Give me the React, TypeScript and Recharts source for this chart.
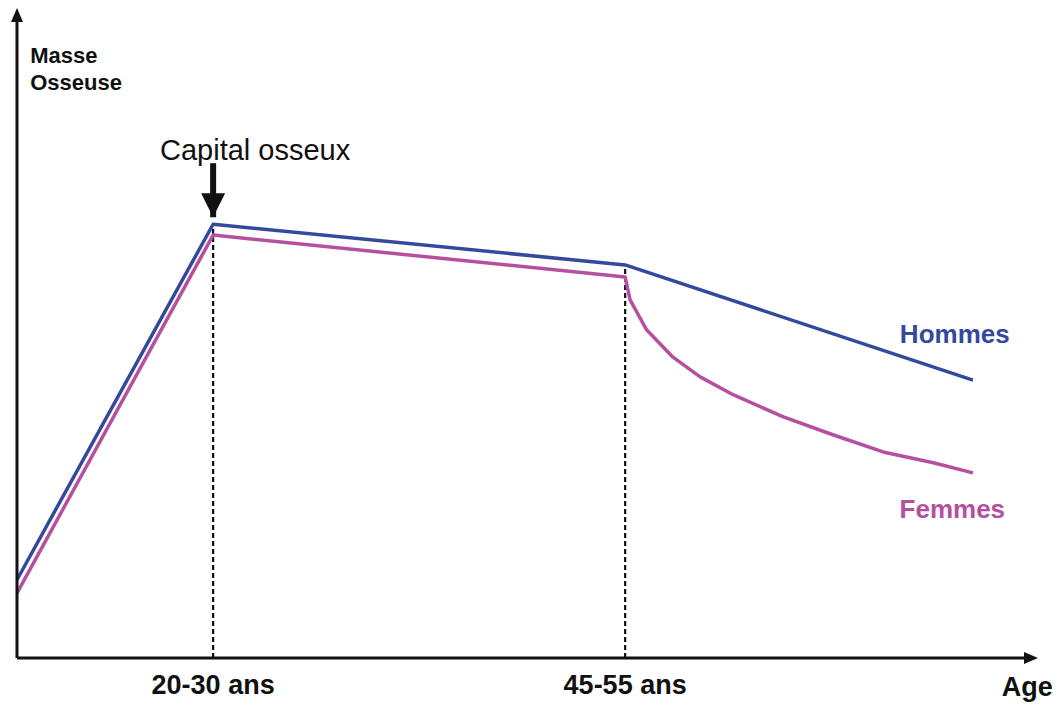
import {
  ComposedChart, Line, XAxis, YAxis, ReferenceLine, ReferenceDot,
} from 'recharts';

// ages (x) and relative bone mass (y, 0-100)
const hommesAge = [13.1, 25, 50, 71.1];
const hommesMasse = [12.3, 68.2, 61.8, 43.7];
const femmesAge = [13.1, 25, 50, 50.3, 51.3, 52.9, 54.55, 56.55, 59.6, 62.6, 65.65, 68.7, 71.1];
const femmesMasse = [10.2, 66.5, 59.9, 56.3, 51.6, 47.3, 44.2, 41.4, 37.9, 35.1, 32.4, 30.7, 29.1];

const tickAges = [25, 50];
const tickLabels = ['20-30 ans', '45-55 ans'];

const BLUE = '#34499c';
const PINK = '#b4509f';
const FONT = '"Liberation Sans", Arial, sans-serif';

const hommes = hommesAge.map((age, i) => ({ age, masse: hommesMasse[i] }));
const femmes = femmesAge.map((age, i) => ({ age, masse: femmesMasse[i] }));

function note(text: string, opts: { fill?: string; size: number; weight?: string | number; anchor?: 'start' | 'middle' | 'end' }) {
  return (props: any) => {
    const vb = props.viewBox || {};
    const x = (vb.x ?? 0) + (vb.width ?? 0) / 2;
    const y = (vb.y ?? 0) + (vb.height ?? 0) / 2;
    return (
      <text
        x={x}
        y={y}
        textAnchor={opts.anchor ?? 'middle'}
        fill={opts.fill ?? '#111'}
        fontSize={opts.size}
        fontWeight={opts.weight ?? 'bold'}
        fontFamily={FONT}
      >
        {text}
      </text>
    );
  };
}

export default function App() {
  return (
    <div style={{ position: 'absolute', left: 0, top: 0, background: '#fff' }}>
      <ComposedChart width={1064} height={706} margin={{ top: 22, right: 40, bottom: 0, left: 15 }}>
        <defs>
          <marker id="axisArrow" viewBox="0 0 14 12" refX="0" refY="6" markerWidth="14" markerHeight="12"
            markerUnits="userSpaceOnUse" orient="auto-start-reverse">
            <path d="M0,0 L14,6 L0,12 z" fill="#111" />
          </marker>
          <marker id="bigArrow" viewBox="0 0 24 24" refX="24" refY="12" markerWidth="24" markerHeight="24"
            markerUnits="userSpaceOnUse" orient="auto">
            <path d="M0,0 L24,12 L0,24 z" fill="#111" />
          </marker>
        </defs>
        <XAxis
          type="number"
          dataKey="age"
          domain={[13.1, 74.2]}
          allowDataOverflow
          ticks={tickAges}
          tickFormatter={(v) => tickLabels[tickAges.indexOf(v)] ?? ''}
          tickLine={false}
          tickMargin={11}
          height={48}
          tick={{ fontSize: 27, fontWeight: 'bold', fill: '#111', fontFamily: FONT }}
          axisLine={{ stroke: '#111', strokeWidth: 3, markerEnd: 'url(#axisArrow)' }}
        />
        <YAxis
          type="number"
          domain={[0, 100]}
          allowDataOverflow
          width={2}
          tick={false}
          tickLine={false}
          axisLine={{ stroke: '#111', strokeWidth: 3, markerStart: 'url(#axisArrow)' }}
        />
        <ReferenceLine
          segment={[{ x: 25, y: 0 }, { x: 25, y: hommesMasse[1] }]}
          stroke="#111" strokeWidth={2.2} strokeDasharray="5 3"
        />
        <ReferenceLine
          segment={[{ x: 50, y: 0 }, { x: 50, y: hommesMasse[2] }]}
          stroke="#111" strokeWidth={2.2} strokeDasharray="5 3"
        />
        <ReferenceLine
          segment={[{ x: 25, y: 77.8 }, { x: 25, y: 69.3 }]}
          stroke="#111" strokeWidth={6} markerEnd="url(#bigArrow)"
        />
        <Line data={femmes} dataKey="masse" type="linear" stroke={PINK} strokeWidth={3.5}
          strokeLinejoin="round" dot={false} isAnimationActive={false} />
        <Line data={hommes} dataKey="masse" type="linear" stroke={BLUE} strokeWidth={3.5}
          strokeLinejoin="round" dot={false} isAnimationActive={false} />
        <ReferenceDot x={13.9} y={93.55} r={0} ifOverflow="visible"
          label={note('Masse', { size: 22, anchor: 'start' })} />
        <ReferenceDot x={13.9} y={89.3} r={0} ifOverflow="visible"
          label={note('Osseuse', { size: 22, anchor: 'start' })} />
        <ReferenceDot x={27.55} y={78.3} r={0} ifOverflow="visible"
          label={note('Capital osseux', { size: 29, weight: 'normal' })} />
        <ReferenceDot x={70.0} y={49.5} r={0} ifOverflow="visible"
          label={note('Hommes', { size: 26, fill: BLUE })} />
        <ReferenceDot x={69.85} y={22.0} r={0} ifOverflow="visible"
          label={note('Femmes', { size: 26, fill: PINK })} />
        <ReferenceDot x={74.4} y={-6.0} r={0} ifOverflow="visible"
          label={note('Age', { size: 27 })} />
      </ComposedChart>
    </div>
  );
}
